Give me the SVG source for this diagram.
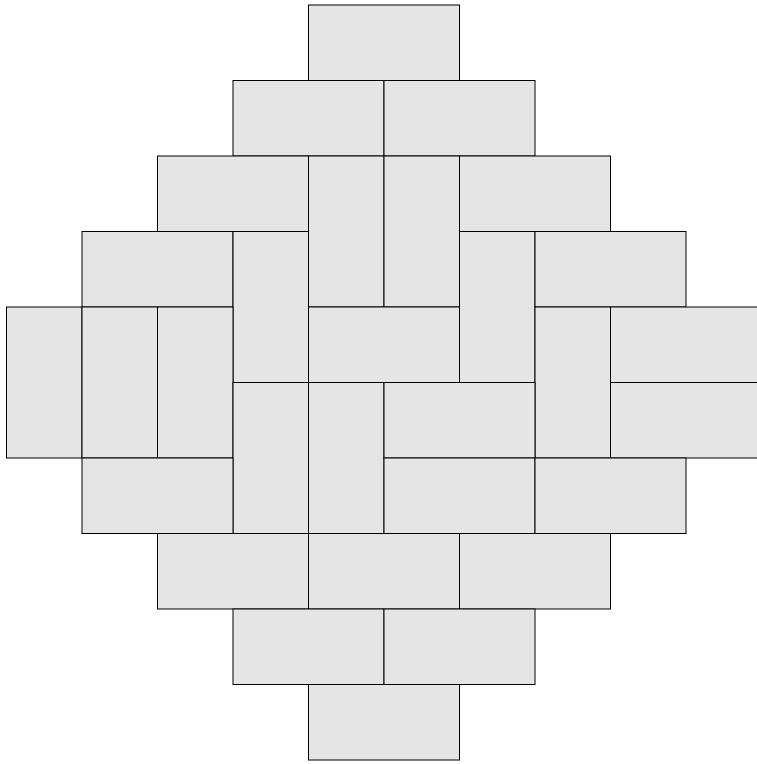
<svg xmlns="http://www.w3.org/2000/svg" width="757" height="764" viewBox="0 0 757 764">
<style>
rect.d{fill:#e5e5e5;stroke:#000;stroke-width:1}
</style>
<rect width="757" height="764" fill="#fff"/>
<g id="tiles">
<g id="r0"><rect class="d" x="308.5" y="5" width="151" height="75.5"/></g>
<g id="r1"><rect class="d" x="233" y="80.5" width="151" height="75.5"/><rect class="d" x="384" y="80.5" width="151" height="75.5"/></g>
<g id="r2"><rect class="d" x="157.5" y="156" width="151" height="75.5"/><rect class="d" x="308.5" y="156" width="75.5" height="151"/><rect class="d" x="384" y="156" width="75.5" height="151"/><rect class="d" x="459.5" y="156" width="151" height="75.5"/></g>
<g id="r3"><rect class="d" x="82" y="231.5" width="151" height="75.5"/><rect class="d" x="233" y="231.5" width="75.5" height="151"/><rect class="d" x="459.5" y="231.5" width="75.5" height="151"/><rect class="d" x="535" y="231.5" width="151" height="75.5"/></g>
<g id="r4"><rect class="d" x="6.5" y="307" width="75.5" height="151"/><rect class="d" x="82" y="307" width="75.5" height="151"/><rect class="d" x="157.5" y="307" width="75.5" height="151"/><rect class="d" x="308.5" y="307" width="151" height="75.5"/><rect class="d" x="535" y="307" width="75.5" height="151"/><rect class="d" x="610.5" y="307" width="151" height="75.5"/></g>
<g id="r5"><rect class="d" x="233" y="382.5" width="75.5" height="151"/><rect class="d" x="308.5" y="382.5" width="75.5" height="151"/><rect class="d" x="384" y="382.5" width="151" height="75.5"/><rect class="d" x="610.5" y="382.5" width="151" height="75.5"/></g>
<g id="r6"><rect class="d" x="82" y="458" width="151" height="75.5"/><rect class="d" x="384" y="458" width="151" height="75.5"/><rect class="d" x="535" y="458" width="151" height="75.5"/></g>
<g id="r7"><rect class="d" x="157.5" y="533.5" width="151" height="75.5"/><rect class="d" x="308.5" y="533.5" width="151" height="75.5"/><rect class="d" x="459.5" y="533.5" width="151" height="75.5"/></g>
<g id="r8"><rect class="d" x="233" y="609" width="151" height="75.5"/><rect class="d" x="384" y="609" width="151" height="75.5"/></g>
<g id="r9"><rect class="d" x="308.5" y="684.5" width="151" height="75.5"/></g>
</g>
<g id="connectors"/>
</svg>
